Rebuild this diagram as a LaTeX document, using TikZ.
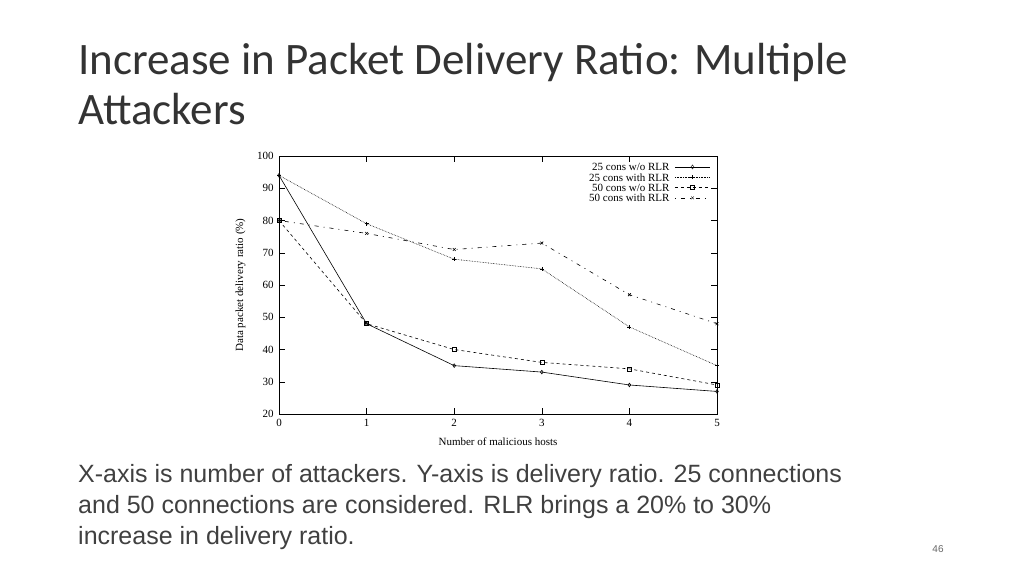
\documentclass[tikz,border=0pt]{standalone}
\usepackage{fontspec}
\setmainfont{Liberation Serif}
\newfontfamily\titlefont{Carlito}
\newfontfamily\bodyfont{Liberation Sans}
\usetikzlibrary{plotmarks}
\begin{document}
\begin{tikzpicture}[x=1pt,y=-1pt,
  plotlbl/.style={font=\fontsize{11}{12}\selectfont},
  pline/.style={line width=0.6pt},
  dashdotline/.style={dash pattern=on 1pt off 5pt on 4pt off 5pt}]
\useasboundingbox (0,0) rectangle (1024,576);
\node[anchor=base west,font=\titlefont\fontsize{45}{50}\selectfont,text=black!80,inner sep=0] (t1) at (78,74) {Increase in Packet Delivery Ratio: Multiple};
\node[anchor=base west,font=\titlefont\fontsize{45}{50}\selectfont,text=black!80,inner sep=0] (t2) at (78,124) {Attackers};
\node[anchor=north west,align=left,font=\bodyfont\fontsize{25}{31}\selectfont,text=black!75,inner sep=0] (body) at (78,464) {X-axis is number of attackers. Y-axis is delivery ratio. 25 connections\\and 50 connections are considered. RLR brings a 20\% to 30\%\\increase in delivery ratio.};
\node[font=\bodyfont\fontsize{10}{12}\selectfont,text=black!60] (pg) at (938,549) {46};
\begin{scope}[shift={(279,414)},x=87.6pt,y=3.225pt]
  \draw[line width=0.6pt] (0,0) rectangle (5,80);
  \foreach \i in {0,...,5}{
    \draw[line width=0.5pt] (\i,0)--(\i,2) (\i,80)--(\i,78);
    \node[plotlbl,anchor=north] at (\i,-0.5) {\i};}
  \foreach \v in {20,30,...,100}{
    \draw[line width=0.5pt] (0,\v-20)--(0.07,\v-20) (5,\v-20)--(4.93,\v-20);
    \node[plotlbl,anchor=east] at (-0.02,\v-20) {\v};}
  \node[plotlbl] at (2.5,-8.5) {Number of malicious hosts};
  \node[plotlbl,rotate=90] at (-0.44,40) {Data packet delivery ratio (\%)};
  \draw[pline] plot[mark=diamond,mark options={solid,scale=0.9}] coordinates {(0,74)(1,28)(2,15)(3,13)(4,9)(5,7)};
  \draw[pline,densely dotted] plot[mark=+,mark options={solid}] coordinates {(0,74)(1,59)(2,48)(3,45)(4,27)(5,15)};
  \draw[pline,dashed] plot[mark=square,mark options={solid}] coordinates {(0,60)(1,28)(2,20)(3,16)(4,14)(5,9)};
  \draw[pline,dashdotline] plot[mark=x,mark options={solid}] coordinates {(0,60)(1,56)(2,51)(3,53)(4,37)(5,28)};
  % legend
  \foreach \k/\t/\s/\m in {0/25 cons w\slash o RLR/solid/diamond,1/25 cons with RLR/densely dotted/+,2/50 cons w\slash o RLR/dashed/square,3/50 cons with RLR/dashdotline/x}{
    \node[plotlbl,anchor=east,inner sep=0] at (4.46,76.6-3.2*\k) {\t};
    \draw[pline,\s] (4.52,76.6-3.2*\k)--(4.92,76.6-3.2*\k);
    \path plot[mark=\m,mark options={solid,draw=black}] coordinates {(4.72,76.6-3.2*\k)};}
\end{scope}
\end{tikzpicture}
\end{document}
